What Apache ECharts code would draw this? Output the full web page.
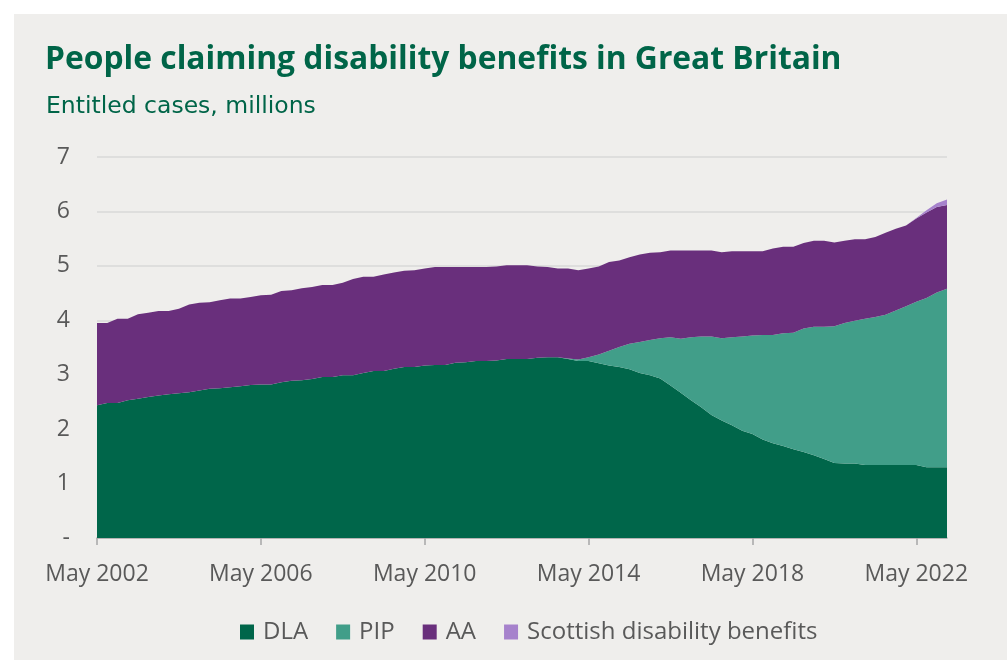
<!DOCTYPE html>
<html>
<head>
<meta charset="utf-8">
<script src="https://cdn.jsdelivr.net/npm/echarts@6/dist/echarts.min.js"></script>
<style>
  html, body { margin: 0; padding: 0; background: #ffffff; }
  #bg { position: absolute; left: 14px; top: 14px; width: 993px; height: 646px; background: #efeeec; }
  #chart { position: absolute; left: 0; top: 0; width: 1007px; height: 660px; }
</style>
</head>
<body>
<div id="bg"></div>
<div id="chart"></div>
<script>
const categories = [
  "May 2002","Aug 2002","Nov 2002","Feb 2003","May 2003","Aug 2003","Nov 2003","Feb 2004",
  "May 2004","Aug 2004","Nov 2004","Feb 2005","May 2005","Aug 2005","Nov 2005","Feb 2006",
  "May 2006","Aug 2006","Nov 2006","Feb 2007","May 2007","Aug 2007","Nov 2007","Feb 2008",
  "May 2008","Aug 2008","Nov 2008","Feb 2009","May 2009","Aug 2009","Nov 2009","Feb 2010",
  "May 2010","Aug 2010","Nov 2010","Feb 2011","May 2011","Aug 2011","Nov 2011","Feb 2012",
  "May 2012","Aug 2012","Nov 2012","Feb 2013","May 2013","Aug 2013","Nov 2013","Feb 2014",
  "May 2014","Aug 2014","Nov 2014","Feb 2015","May 2015","Aug 2015","Nov 2015","Feb 2016",
  "May 2016","Aug 2016","Nov 2016","Feb 2017","May 2017","Aug 2017","Nov 2017","Feb 2018",
  "May 2018","Aug 2018","Nov 2018","Feb 2019","May 2019","Aug 2019","Nov 2019","Feb 2020",
  "May 2020","Aug 2020","Nov 2020","Feb 2021","May 2021","Aug 2021","Nov 2021","Feb 2022",
  "May 2022","Aug 2022","Nov 2022","Feb 2023"
];

const dla = [
  2.44,2.48,2.48,2.53,2.56,2.59,2.62,2.64,2.66,2.68,2.71,2.74,2.75,2.77,2.79,2.81,
  2.82,2.82,2.86,2.89,2.90,2.92,2.96,2.96,2.99,2.99,3.03,3.07,3.07,3.11,3.14,3.14,
  3.17,3.18,3.18,3.22,3.23,3.25,3.25,3.26,3.29,3.29,3.29,3.31,3.32,3.32,3.29,3.25,
  3.25,3.21,3.17,3.14,3.10,3.03,2.99,2.93,2.80,2.67,2.53,2.40,2.26,2.16,2.07,1.97,
  1.91,1.81,1.74,1.69,1.63,1.58,1.52,1.45,1.38,1.37,1.37,1.34,1.34,1.34,1.34,1.34,
  1.34,1.30,1.30,1.30
];

const pip = [
  0,0,0,0,0,0,0,0,0,0,0,0,0,0,0,0,
  0,0,0,0,0,0,0,0,0,0,0,0,0,0,0,0,
  0,0,0,0,0,0,0,0,0,0,0,0,0,0,0.01,0.03,
  0.07,0.16,0.27,0.37,0.47,0.57,0.65,0.74,0.89,0.99,1.16,1.30,1.44,1.51,1.62,1.73,
  1.81,1.92,1.99,2.07,2.14,2.27,2.36,2.43,2.51,2.58,2.62,2.69,2.72,2.76,2.84,2.92,
  3.00,3.11,3.21,3.28
];

const aa = [
  1.51,1.47,1.55,1.50,1.55,1.55,1.55,1.53,1.55,1.61,1.61,1.59,1.62,1.63,1.61,1.62,
  1.64,1.65,1.68,1.66,1.69,1.69,1.69,1.69,1.70,1.77,1.77,1.73,1.77,1.77,1.77,1.78,
  1.78,1.80,1.80,1.76,1.75,1.73,1.73,1.73,1.72,1.72,1.72,1.68,1.66,1.63,1.65,1.64,
  1.63,1.62,1.63,1.59,1.59,1.61,1.60,1.58,1.59,1.62,1.59,1.58,1.58,1.58,1.58,1.57,
  1.55,1.54,1.59,1.59,1.58,1.57,1.58,1.58,1.54,1.51,1.50,1.46,1.47,1.51,1.50,1.48,
  1.53,1.57,1.57,1.54
];

const scottish = [
  0,0,0,0,0,0,0,0,0,0,0,0,0,0,0,0,
  0,0,0,0,0,0,0,0,0,0,0,0,0,0,0,0,
  0,0,0,0,0,0,0,0,0,0,0,0,0,0,0,0,
  0,0,0,0,0,0,0,0,0,0,0,0,0,0,0,0,
  0,0,0,0,0,0,0,0,0,0,0,0,0,0,0,0,
  0.01,0.04,0.07,0.10
];

const yTicks = ["-","1","2","3","4","5","6","7"];

const seriesNames = ["DLA","PIP","AA","Scottish disability benefits"];
const seriesColors = ["#00664a","#419e89","#692f7c","#a682cc"];
const seriesData = [dla, pip, aa, scottish];

const chart = echarts.init(document.getElementById('chart'), null, { renderer: 'canvas' });

const option = {
  backgroundColor: 'transparent',
  animation: false,
  title: [
    {
      text: 'People claiming disability benefits in Great Britain',
      left: 40, top: 39,
      textStyle: { fontFamily: 'Open Sans', fontWeight: 'bold', fontSize: 31.8, color: '#006548' }
    },
    {
      text: 'Entitled cases, millions',
      left: 41, top: 90,
      textStyle: { fontFamily: 'DejaVu Sans', fontWeight: 'normal', fontSize: 23.5, color: '#006548' }
    }
  ],
  legend: {
    left: 235, top: 615,
    itemWidth: 14, itemHeight: 15, itemGap: 28,
    icon: 'rect',
    textStyle: { fontFamily: 'Open Sans', fontSize: 24, color: '#595959', padding: [0,0,0,4] },
    data: seriesNames
  },
  grid: { left: 97, right: 60, top: 157, bottom: 122, containLabel: false },
  xAxis: {
    type: 'category',
    data: categories,
    boundaryGap: false,
    axisLine: { lineStyle: { color: '#a6a6a6', width: 1.5 } },
    axisTick: { show: true, interval: 15, length: 7, lineStyle: { color: '#a6a6a6', width: 1.5 } },
    axisLabel: { interval: 15, margin: 25, fontFamily: 'Open Sans', fontSize: 23, color: '#595959' },
    splitLine: { show: false }
  },
  yAxis: {
    type: 'value',
    min: 0, max: 7, interval: 1,
    axisLine: { show: false },
    axisTick: { show: false },
    axisLabel: {
      margin: 27, fontFamily: 'Open Sans', fontSize: 23, color: '#595959',
      formatter: function (v) { return yTicks[Math.round(v)]; }
    },
    splitLine: { lineStyle: { color: '#d9d9d9', width: 1.5 } }
  },
  series: seriesNames.map(function (name, k) {
    return {
      name: name,
      type: 'line',
      stack: 'total',
      data: seriesData[k],
      symbol: 'none',
      smooth: false,
      lineStyle: { width: 0 },
      areaStyle: { color: seriesColors[k], opacity: 1 },
      itemStyle: { color: seriesColors[k] },
      emphasis: { disabled: true },
      z: 2
    };
  })
};

chart.setOption(option);
</script>
</body>
</html>
